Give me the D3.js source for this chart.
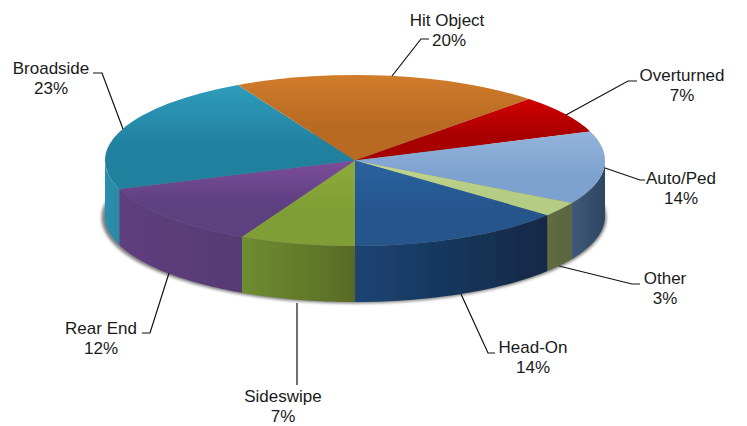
<!DOCTYPE html>
<html><head><meta charset="utf-8">
<script src="https://cdn.jsdelivr.net/npm/d3@7/dist/d3.min.js"></script>
<style>html,body{margin:0;padding:0;background:#fff}svg{display:block}text{font-family:"Liberation Sans",Arial,sans-serif;font-size:17px;fill:#1a1a1a}</style>
</head><body><svg id="c" width="747" height="426"></svg>
<script>
const categories=["Sideswipe","Rear End","Broadside","Hit Object","Overturned","Auto/Ped","Other","Head-On"];
const percents=[7.47,12.13,22.65,20.0,7.25,13.8,2.73,13.97];
const topColors=[["#8dab3c","#7f9e35"],["#7c4c9a","#5b3f80"],["#2f9cbb","#22809f"],["#d07c2c","#b86a20"],["#d00000","#a80000"],["#93b3da","#7ea2d0"],["#c3d694","#b5cc84"],["#2a62a0","#25558c"]];
const sideColors=[["#6f8d30","#586a27"],["#5f3f7e","#563a74"],["#2b8fae","#2a88a6"],["#b86a20","#a05a18"],["#900000","#800000"],["#3f5a78","#2e4560"],["#5f6d44","#59653e"],["#1c4474","#122845"]];
const labelX=[283,101,51,447,682,681,665,533];
const labelY=[396,328,68,20,75,178,278,347];
const pctDX=[0,0,0,2,0,0,0,0];
const leaders=[
 [[297,303],[297,385]],
 [[169,273],[150,333],[142,333]],
 [[123,129],[102,73],[93,73]],
 [[392,76],[421,39],[429,39]],
 [[566,115],[628,81],[637,81]],
 [[605,168],[640,180],[645,180]],
 [[559,266],[632,284],[640,284]],
 [[461,294],[488,353],[495,353]]
];
const cx=355,cy=160.5,rx=250,ry=85.5,depth=56;
const svg=d3.select("#c"),defs=svg.append("defs");
const grad=(id,cols,horiz,stops)=>{
 const g=defs.append("linearGradient").attr("id",id).attr("x1",0).attr("y1",0).attr("x2",horiz?1:0).attr("y2",horiz?0:1);
 g.selectAll("stop").data(stops||[0,1]).join("stop").attr("offset",d=>d).attr("stop-color",(d,i)=>cols[i]);
};
percents.forEach((_,i)=>{
 grad("t"+i,[topColors[i][0],topColors[i][1],topColors[i][1]],false,[0,.6,1]);
 grad("s"+i,sideColors[i],true);
});
const soft=defs.append("filter").attr("id","soft");soft.append("feGaussianBlur").attr("stdDeviation",0.45);
const blur=defs.append("filter").attr("id","blur").attr("x","-5%").attr("y","-10%").attr("width","110%").attr("height","120%");blur.append("feGaussianBlur").attr("stdDeviation",1.6);
const pie=d3.pie().sort(null).startAngle(Math.PI).endAngle(3*Math.PI);
const arcs=pie(percents);
const px=a=>cx+rx*Math.sin(a),py=a=>cy-ry*Math.cos(a);

svg.append("ellipse").attr("cx",cx-1).attr("cy",cy+depth+1).attr("rx",rx+2.5).attr("ry",ry+0.5).attr("fill","#808080").attr("filter","url(#blur)");
const g=svg.append("g").attr("filter","url(#soft)");
const side=d3.area().x(a=>px(a)).y0(a=>py(a)).y1(a=>py(a)+depth);
const lo=Math.PI/2,hi=3*Math.PI/2;
const segs=[];
arcs.forEach((d,i)=>{
 [0,2*Math.PI].forEach(sh=>{
  const a0=Math.max(d.startAngle-sh,lo),a1=Math.min(d.endAngle-sh,hi);
  if(a1>a0)segs.push({i,a:d3.range(0,41).map(k=>a0+(a1-a0)*k/40)});
 });
});
g.selectAll("path.side").data(segs).join("path").attr("class","side").attr("d",d=>side(d.a)).attr("fill",d=>`url(#s${d.i})`);
const arc=d3.arc().innerRadius(0).outerRadius(1);
g.append("g").attr("transform",`translate(${cx},${cy}) scale(${rx},${ry})`)
 .selectAll("path").data(arcs).join("path").attr("d",arc).attr("fill",(d,i)=>`url(#t${i})`);
const line=d3.line();
svg.selectAll("path.lead").data(leaders).join("path").attr("class","lead").attr("d",line).attr("fill","none").attr("stroke","#111").attr("stroke-width",1.2);
const lab=svg.selectAll("g.lab").data(categories).join("g").attr("class","lab");
lab.append("text").attr("x",(d,i)=>labelX[i]).attr("y",(d,i)=>labelY[i]).attr("dy","0.35em").attr("text-anchor","middle").text(d=>d);
lab.append("text").attr("x",(d,i)=>labelX[i]+pctDX[i]).attr("y",(d,i)=>labelY[i]+20.5).attr("dy","0.35em").attr("text-anchor","middle").text((d,i)=>Math.round(percents[i])+"%");
</script></body></html>
